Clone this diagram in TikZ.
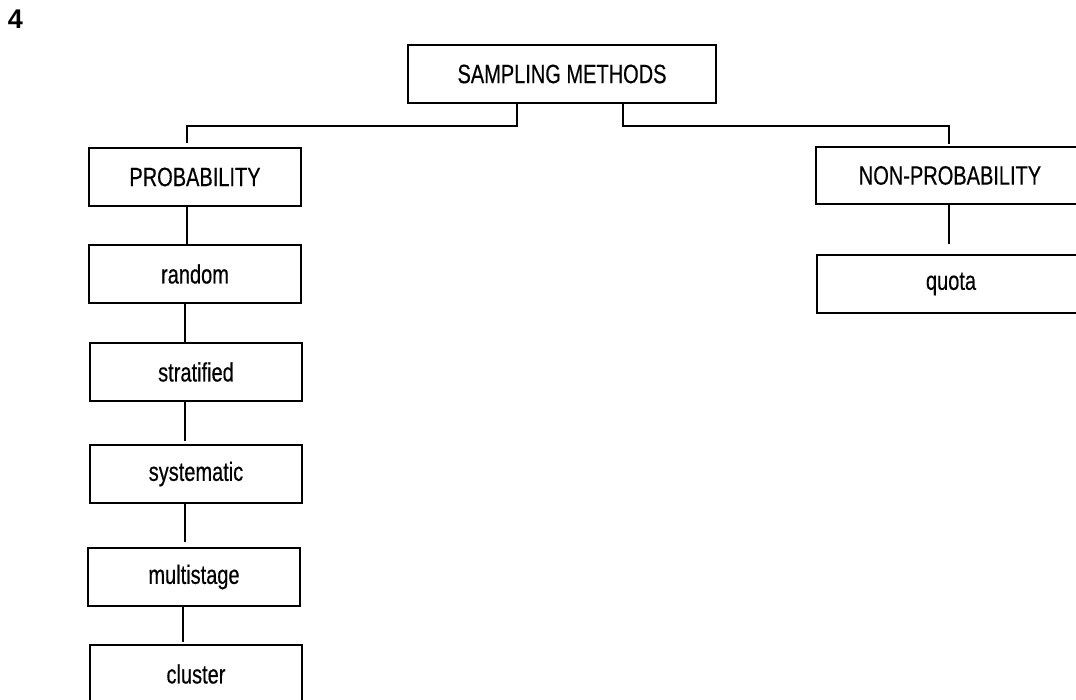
\documentclass[tikz,border=0pt]{standalone}
\usepackage{fontspec}
\setmainfont{Liberation Sans}[FakeStretch=0.755, FakeBold=0.4]
\newfontfamily\labelfont{Liberation Sans}
\begin{document}
\begin{tikzpicture}[x=1pt,y=-1pt,
  box/.style={draw, line width=2pt, rectangle, inner sep=0pt,
    minimum height=58pt, anchor=north west,
    font=\fontsize{26.5}{30}\selectfont},
  leftbox/.style={box, minimum width=212pt},
  rightbox/.style={box, minimum width=268pt},
  link/.style={line width=2pt}]
\clip (0,0) rectangle (1076,700);
\fill[white] (0,0) rectangle (1076,700);

\node[font=\labelfont\bfseries\fontsize{27}{32}\selectfont] (num) at (15.5,19) {4};

\node[box, minimum width=308pt] (root) at (407,44) {SAMPLING METHODS};

\node[leftbox] (prob) at (88,147) {PROBABILITY};
\node[leftbox] (rand) at (88,244) {random};
\node[leftbox] (strat) at (89,342) {stratified};
\node[leftbox] (syst) at (89,444) {systematic};
\node[leftbox] (multi) at (87,547) {multistage};
\node[leftbox] (clus) at (89,644) {cluster};

\node[rightbox, minimum height=57pt] (nonprob) at (815,146) {NON-PROBABILITY};
\node[rightbox] (quota) at (816,254) {quota};

% x positions of the vertical links
\coordinate (xa) at (187,0);
\coordinate (xb) at (185,0);
\coordinate (xc) at (183,0);
\coordinate (xd) at (949,0);

% branches from the root
\draw[link] ([xshift=-45pt]root.south) -- ++(0,22) -| ([yshift=4pt]prob.north -| xa);
\draw[link] ([xshift=61pt]root.south) -- ++(0,22) -| ([yshift=2pt]nonprob.north -| xd);

% probability chain
\draw[link] (prob.south -| xa) -- (rand.north -| xa);
\draw[link] (rand.south -| xb) -- (strat.north -| xb);
\draw[link] (strat.south -| xb) -- ([yshift=3pt]syst.north -| xb);
\draw[link] (syst.south -| xb) -- ([yshift=5pt]multi.north -| xb);
\draw[link] (multi.south -| xc) -- ([yshift=2pt]clus.north -| xc);

% non-probability chain
\draw[link] (nonprob.south -| xd) -- ([yshift=10pt]quota.north -| xd);
\end{tikzpicture}
\end{document}
